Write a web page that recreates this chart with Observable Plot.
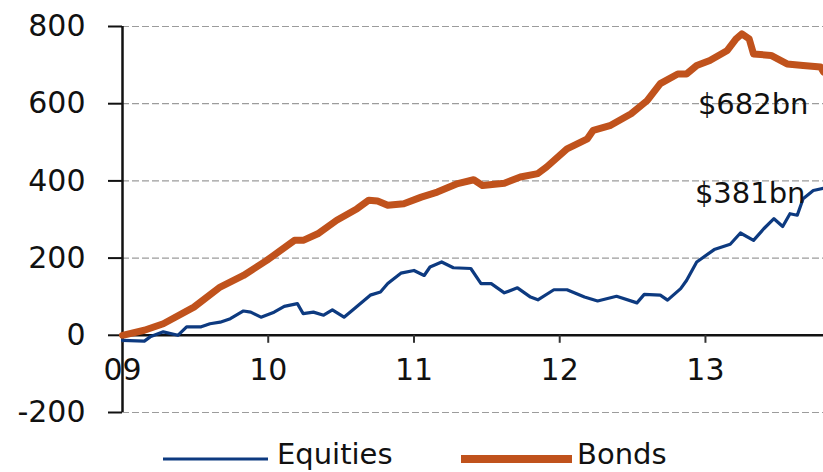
<!DOCTYPE html>
<html>
<head>
<meta charset="utf-8">
<script src="https://cdn.jsdelivr.net/npm/d3@7"></script>
<script src="https://cdn.jsdelivr.net/npm/@observablehq/plot@0.6"></script>
<style>
  html, body { margin: 0; padding: 0; background: #fff; }
  #wrap { position: relative; width: 823px; height: 472px; overflow: hidden; font-family: "DejaVu Sans", sans-serif; }
  #legend { position: absolute; left: 0; top: 436px; height: 36px; }
  #legend svg { display: block; }
</style>
</head>
<body>
<div id="wrap">
  <div id="chart"></div>
  <div id="legend"></div>
</div>
<script>
// ---- data (cumulative flows, $bn) ----
const seriesNames = ["Equities", "Bonds"];
const seriesColors = ["#0D3A80", "#C0521C"];

const bondsYears = [2009.00, 2009.15, 2009.28, 2009.49, 2009.67, 2009.83, 2009.99, 2010.18, 2010.24, 2010.34,
  2010.47, 2010.61, 2010.69, 2010.75, 2010.82, 2010.93, 2011.05, 2011.16, 2011.30, 2011.41,
  2011.47, 2011.62, 2011.73, 2011.85, 2011.91, 2012.05, 2012.19, 2012.23, 2012.35, 2012.49,
  2012.60, 2012.69, 2012.81, 2012.87, 2012.94, 2013.03, 2013.15, 2013.21, 2013.25, 2013.30,
  2013.33, 2013.45, 2013.56, 2013.67, 2013.79, 2013.81];
const bondsValues = [0, 13, 30, 73, 125, 155, 194, 246, 246, 263,
  298, 328, 350, 348, 337, 341, 358, 371, 393, 403,
  388, 394, 410, 419, 436, 483, 509, 531, 544, 574,
  608, 652, 677, 677, 699, 712, 738, 768, 781, 768,
  729, 725, 703, 699, 695, 682];

const equitiesYears = [2009.00, 2009.15, 2009.19, 2009.28, 2009.38, 2009.44, 2009.54, 2009.60, 2009.67, 2009.74,
  2009.83, 2009.88, 2009.95, 2010.04, 2010.11, 2010.20, 2010.24, 2010.31, 2010.38, 2010.44,
  2010.52, 2010.59, 2010.70, 2010.77, 2010.82, 2010.91, 2011.00, 2011.07, 2011.11, 2011.19,
  2011.27, 2011.39, 2011.46, 2011.53, 2011.62, 2011.71, 2011.80, 2011.85, 2011.96, 2012.05,
  2012.17, 2012.26, 2012.39, 2012.53, 2012.58, 2012.69, 2012.74, 2012.83, 2012.87, 2012.94,
  2013.06, 2013.17, 2013.24, 2013.33, 2013.40, 2013.47, 2013.53, 2013.58, 2013.63, 2013.67,
  2013.74, 2013.81];
const equitiesValues = [-13, -15, -4, 9, 0, 22, 22, 30, 34, 43,
  63, 60, 47, 60, 75, 82, 56, 60, 52, 66,
  47, 69, 104, 112, 134, 161, 168, 155, 177, 190,
  175, 173, 134, 134, 110, 123, 99, 92, 118, 118,
  99, 89, 101, 84, 106, 104, 91, 121, 142, 190,
  222, 236, 265, 246, 276, 302, 282, 315, 311, 354,
  375, 381];

const endLabels = ["$381bn", "$682bn"];
const xTickYears = [2009, 2010, 2011, 2012, 2013];
const xTickLabels = ["09", "10", "11", "12", "13"];
const yTicks = [-200, 0, 200, 400, 600, 800];

// ---- build tables ----
const bonds = bondsYears.map((t, i) => ({t, v: bondsValues[i]}));
const equities = equitiesYears.map((t, i) => ({t, v: equitiesValues[i]}));
const xTicks = xTickYears.map((t, i) => ({t, label: xTickLabels[i]}));
const lastEq = [{...equities[equities.length - 1], label: endLabels[0]}];
const lastBd = [{...bonds[bonds.length - 1], label: endLabels[1]}];

const chart = Plot.plot({
  width: 823,
  height: 436,
  marginLeft: 122,
  marginRight: 0,
  marginTop: 26,
  marginBottom: 24,
  style: {fontFamily: "DejaVu Sans, sans-serif", background: "#fff", color: "#111", overflow: "visible"},
  x: {domain: [2009, 2013.81], axis: null},
  y: {domain: [-200, 800]},
  marks: [
    Plot.ruleY(yTicks.filter(d => d !== 0), {stroke: "#9c9c9c", strokeWidth: 1.2, strokeDasharray: "7,3"}),
    Plot.axisY(yTicks, {tickSize: 14, tickPadding: 23, fontSize: 30, tickFormat: d => String(d), strokeWidth: 2, label: null}),
    Plot.ruleX([2009], {stroke: "#111", strokeWidth: 2.5}),
    Plot.ruleY([0], {stroke: "#111", strokeWidth: 2.5}),
    Plot.ruleX(xTicks, {x: "t", y1: 0, y2: 0, insetBottom: -8, stroke: "#333", strokeWidth: 2}),
    Plot.text(xTicks, {x: "t", y: 0, text: "label", dy: 35, fontSize: 30, fill: "#111"}),
    Plot.line(bonds, {x: "t", y: "v", stroke: seriesColors[1], strokeWidth: 7, strokeLinejoin: "round", strokeLinecap: "round"}),
    Plot.line(equities, {x: "t", y: "v", stroke: seriesColors[0], strokeWidth: 3.2, strokeLinejoin: "round"}),
    Plot.text(lastBd, {x: "t", y: "v", text: "label", textAnchor: "end", dx: -15, dy: 33, fontSize: 29, fill: "#111"}),
    Plot.text(lastEq, {x: "t", y: "v", text: "label", textAnchor: "end", dx: -18, dy: 5, fontSize: 29, fill: "#111"})
  ]
});
document.getElementById("chart").appendChild(chart);

// ---- legend ----
const lg = d3.select("#legend").append("svg")
  .attr("width", 823).attr("height", 36)
  .style("font-family", "DejaVu Sans, sans-serif");
const items = [
  {name: seriesNames[0], color: seriesColors[0], w: 3, x1: 163, x2: 268, tx: 277},
  {name: seriesNames[1], color: seriesColors[1], w: 8, x1: 461, x2: 572, tx: 577}
];
items.forEach(it => {
  lg.append("line").attr("x1", it.x1).attr("x2", it.x2).attr("y1", 23).attr("y2", 23)
    .attr("stroke", it.color).attr("stroke-width", it.w);
  lg.append("text").attr("x", it.tx).attr("y", 28).attr("font-size", 29).attr("fill", "#111").text(it.name);
});
</script>
</body>
</html>
